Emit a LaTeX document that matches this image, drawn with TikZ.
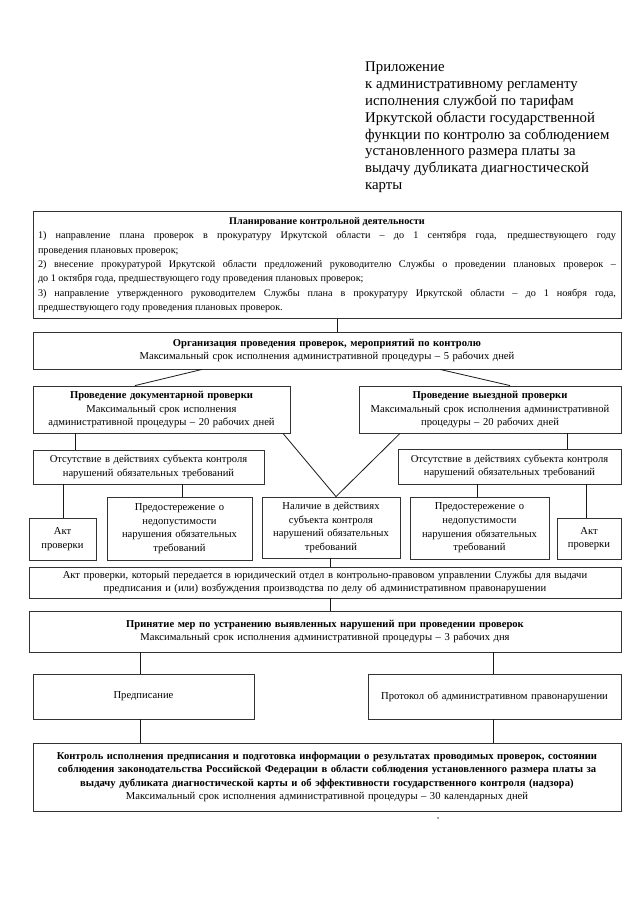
\documentclass[tikz,border=0pt]{standalone}
\usepackage{fontspec}
\setmainfont{Liberation Serif}
\begin{document}
\begin{tikzpicture}[x=1pt,y=-1pt,
  box/.style={draw=black!80, line width=0.85pt, inner sep=1pt, align=center,
    font=\fontsize{10.6}{13.6}\selectfont},
  conn/.style={draw=black!90, line width=0.8pt},
  hdrtext/.style={inner sep=0pt, align=left, anchor=north west,
    font=\fontsize{14.8}{16.8}\selectfont}]
\useasboundingbox (0,0) rectangle (639,905);
\fill[white] (0,0) rectangle (639,905);

% header
\node[hdrtext] (hdr) at (365,62) {Приложение\\
к административному регламенту\\
исполнения службой по тарифам\\
Иркутской области государственной\\
функции по контролю за соблюдением\\
установленного размера платы за\\
выдачу дубликата диагностической\\
карты};

% x positions for connectors
\coordinate (c337) at (337,0);
\coordinate (c202) at (202,0);
\coordinate (c135) at (135,0);
\coordinate (c440) at (440,0);
\coordinate (c510) at (510,0);
\coordinate (c75) at (75,0);
\coordinate (c283) at (283,0);
\coordinate (c336) at (336,0);
\coordinate (c400) at (400,0);
\coordinate (c567) at (567,0);
\coordinate (c63) at (63,0);
\coordinate (c182) at (182,0);
\coordinate (c477) at (477,0);
\coordinate (c586) at (586,0);
\coordinate (c330) at (330,0);
\coordinate (c140) at (140,0);
\coordinate (c493) at (493,0);

% boxes
\node[box, minimum width=588pt, minimum height=107pt, text width=578pt, align=justify,
  font=\fontsize{10.2}{14.4}\selectfont] (plan) at (327,265)
{\spaceskip=0.25em plus 2em minus 0.05em\tolerance=10000\hbadness=10000
{\centering\bfseries Планирование контрольной деятельности\par}
1) направление плана проверок в прокуратуру Иркутской области – до 1 сентября года, предшествующего году\linebreak
проведения плановых проверок;\par
2) внесение прокуратурой Иркутской области предложений руководителю Службы о проведении плановых проверок –\linebreak
до 1 октября года, предшествующего году проведения плановых проверок;\par
3) направление утвержденного руководителем Службы плана в прокуратуру Иркутской области – до 1 ноября года,\linebreak
предшествующего году проведения плановых проверок.};

\node[box, minimum width=588pt, minimum height=37pt, text width=580pt] (org) at (327,350.5)
{\textbf{Организация проведения проверок, мероприятий по контролю}\\
Максимальный срок исполнения административной процедуры – 5 рабочих дней};

\node[box, minimum width=257pt, minimum height=47pt, text width=250pt] (doc) at (161.5,409.5)
{\textbf{Проведение документарной проверки}\\
Максимальный срок исполнения\\
административной процедуры – 20 рабочих дней};

\node[box, minimum width=262pt, minimum height=47pt, text width=256pt] (vyezd) at (490,409.5)
{\textbf{Проведение выездной проверки}\\
Максимальный срок исполнения административной\\
процедуры – 20 рабочих дней};

\node[box, minimum width=231pt, minimum height=34pt, text width=226pt] (otsL) at (148.5,467)
{Отсутствие в действиях субъекта контроля\\
нарушений обязательных требований};

\node[box, minimum width=223pt, minimum height=35pt, text width=218pt] (otsR) at (509.5,466.5)
{Отсутствие в действиях субъекта контроля\\
нарушений обязательных требований};

\node[box, minimum width=67pt, minimum height=42pt, text width=62pt] (aktL) at (62.5,539)
{Акт\\ проверки};

\node[box, minimum width=145pt, minimum height=63pt, text width=140pt] (predL) at (179.5,528.5)
{Предостережение о\\ недопустимости\\ нарушения обязательных\\ требований};

\node[box, minimum width=138pt, minimum height=61pt, text width=134pt] (nal) at (331,527.5)
{Наличие в действиях\\ субъекта контроля\\ нарушений обязательных\\ требований};

\node[box, minimum width=139pt, minimum height=62pt, text width=134pt] (predR) at (479.5,528)
{Предостережение о\\ недопустимости\\ нарушения обязательных\\ требований};

\node[box, minimum width=64pt, minimum height=41pt, text width=60pt] (aktR) at (589,538.5)
{Акт\\ проверки};

\node[box, minimum width=592pt, minimum height=31pt, text width=586pt] (aktBig) at (325,582.5)
{Акт проверки, который передается в юридический отдел в контрольно-правовом управлении Службы для выдачи\\
предписания и (или) возбуждения производства по делу об административном правонарушении};

\node[box, minimum width=592pt, minimum height=41pt, text width=586pt] (prin) at (325,631.5)
{\textbf{Принятие мер по устранению выявленных нарушений при проведении проверок}\\
Максимальный срок исполнения административной процедуры – 3 рабочих дня};

\node[box, minimum width=221pt, minimum height=45pt, text width=216pt] (predp) at (143.5,696.5)
{Предписание};

\node[box, minimum width=253pt, minimum height=45pt, text width=248pt] (prot) at (494.5,696.5)
{Протокол об административном правонарушении};

\node[box, minimum width=588pt, minimum height=68pt, text width=584pt] (kontrol) at (327,777)
{\textbf{Контроль исполнения предписания и подготовка информации о результатах проводимых проверок, состоянии}\\
\textbf{соблюдения законодательства Российской Федерации в области соблюдения установленного размера платы за}\\
\textbf{выдачу дубликата диагностической карты и об эффективности государственного контроля (надзора)}\\
Максимальный срок исполнения административной процедуры – 30 календарных дней};

\fill[black!70] (438,818) circle (0.8pt);

% connectors
\draw[conn] (plan.south -| c337) -- (org.north -| c337);
\draw[conn] (org.south -| c202) -- (doc.north -| c135);
\draw[conn] (org.south -| c440) -- (vyezd.north -| c510);
\draw[conn] (doc.south -| c75) -- (otsL.north -| c75);
\draw[conn] (doc.south -| c283) -- (nal.north -| c336);
\draw[conn] (vyezd.south -| c400) -- (nal.north -| c336);
\draw[conn] (vyezd.south -| c567) -- (otsR.north -| c567);
\draw[conn] (otsL.south -| c63) -- (aktL.north -| c63);
\draw[conn] (otsL.south -| c182) -- (predL.north -| c182);
\draw[conn] (otsR.south -| c477) -- (predR.north -| c477);
\draw[conn] (otsR.south -| c586) -- (aktR.north -| c586);
\draw[conn] (nal.south -| c330) -- (aktBig.north -| c330);
\draw[conn] (aktBig.south -| c330) -- (prin.north -| c330);
\draw[conn] (prin.south -| c140) -- (predp.north -| c140);
\draw[conn] (prin.south -| c493) -- (prot.north -| c493);
\draw[conn] (predp.south -| c140) -- (kontrol.north -| c140);
\draw[conn] (prot.south -| c493) -- (kontrol.north -| c493);
\end{tikzpicture}
\end{document}
